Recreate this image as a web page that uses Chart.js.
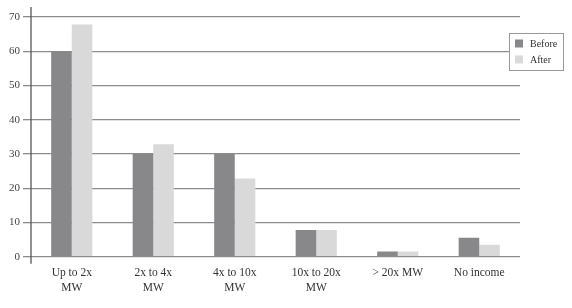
<!DOCTYPE html>
<html><head><meta charset="utf-8">
<script src="https://cdn.jsdelivr.net/npm/chart.js@4.4.1/dist/chart.umd.min.js"></script>
<style>html,body{margin:0;padding:0;background:#fff}#wrap{width:572px;height:308px;position:relative}</style>
</head><body><div id="wrap"><canvas id="c"></canvas></div>
<script>
const categories = [["Up to 2x","MW"],["2x to 4x","MW"],["4x to 10x","MW"],["10x to 20x","MW"],"> 20x MW","No income"];
const beforeValues = [60, 30, 30, 7.8, 1.5, 5.5];
const afterValues = [67.8, 32.8, 22.8, 7.8, 1.5, 3.5];
const yTicks = [0,10,20,30,40,50,60,70];

const FONT = "'Liberation Serif', 'DejaVu Serif', serif";

const extras = {
  id: 'extras',
  afterDraw(chart) {
    const ctx = chart.ctx;
    const y = chart.scales.y;
    const a = chart.chartArea;
    ctx.save();
    ctx.strokeStyle = '#555';
    ctx.lineWidth = 1.3;
    ctx.beginPath();
    ctx.moveTo(a.left, y.getPixelForValue(70) - 10);
    ctx.lineTo(a.left, y.getPixelForValue(0) + 7);
    ctx.stroke();
    // legend box
    const bx = 509, by = 33, bw = 54, bh = 37;
    ctx.fillStyle = '#fff';
    ctx.fillRect(bx, by, bw, bh);
    ctx.strokeStyle = '#9a9a9a';
    ctx.lineWidth = 1;
    ctx.strokeRect(bx + 0.5, by + 0.5, bw, bh);
    ctx.font = "10px " + FONT;
    ctx.textBaseline = 'middle';
    chart.data.datasets.forEach((ds, i) => {
      const cy = 43.5 + i * 16;
      ctx.fillStyle = ds.backgroundColor;
      ctx.fillRect(515, cy - 4, 8, 8);
      ctx.fillStyle = '#333';
      ctx.fillText(ds.label, 530, cy + 0.5);
    });
    ctx.restore();
  }
};

new Chart(document.getElementById('c'), {
  type: 'bar',
  data: {
    labels: categories,
    datasets: [
      { label: 'Before', data: beforeValues, backgroundColor: '#88888a' },
      { label: 'After', data: afterValues, backgroundColor: '#d9d9da' }
    ]
  },
  options: {
    responsive: true,
    maintainAspectRatio: false,
    animation: false,
    layout: { padding: { top: 17, right: 52, left: 0, bottom: 3 } },
    plugins: { legend: { display: false }, tooltip: { enabled: false } },
    datasets: { bar: { categoryPercentage: 0.505, barPercentage: 1.0 } },
    scales: {
      x: {
        grid: { display: false, drawTicks: false },
        border: { display: false },
        ticks: { color: '#333', font: { family: FONT, size: 11.5, lineHeight: 1.32 }, padding: 9, maxRotation: 0, autoSkip: false }
      },
      y: {
        min: 0, max: 70,
        afterFit(s) { s.width = 31; },
        afterBuildTicks(s) { s.ticks = yTicks.map(v => ({ value: v })); },
        grid: { color: '#8c8c8c', lineWidth: 1.3, drawTicks: true, tickLength: 8, tickColor: '#8c8c8c' },
        border: { display: false },
        ticks: { color: '#444', font: { family: FONT, size: 11 }, padding: 3 }
      }
    }
  },
  plugins: [extras]
});
</script></body></html>
